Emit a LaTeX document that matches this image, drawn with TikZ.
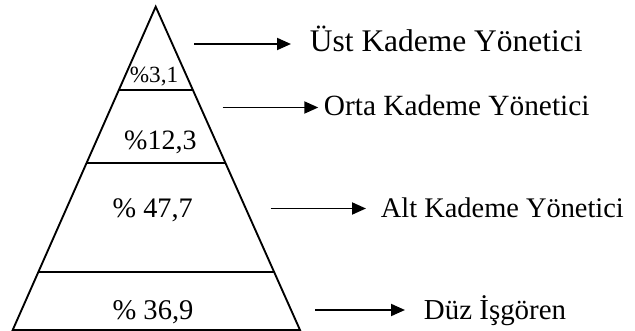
\documentclass[tikz,border=0pt]{standalone}
\usepackage{fontspec}
\setmainfont{Liberation Serif}
\usetikzlibrary{calc,arrows.meta,positioning}
\begin{document}
\begin{tikzpicture}[x=0.75pt,y=-0.75pt,line join=miter,line width=1.4pt,
	>={Triangle[length=10.5pt,width=9pt]},
	pct/.style={inner sep=0pt,anchor=base},
	lbl/.style={inner sep=0pt,anchor=base west}]
	\useasboundingbox (0,0) rectangle (635,331);
	% piramit
	\coordinate (apex) at (155.7,6.7);
	\coordinate (bl) at (12.7,330);
	\coordinate (br) at (300,330);
	\draw (bl)--(apex)--(br)--cycle;
	\foreach \t in {0.2577,0.4844,0.8215}
	\draw ($(apex)!\t!(bl)$)--($(apex)!\t!(br)$);
	% oranlar
	\node[pct,font=\fontsize{17.4}{20}\selectfont] (p1) at (154,83) {\%3,1};
	\node[pct,font=\fontsize{21}{24}\selectfont] (p2) at (160.4,149.3) {\%12,3};
	\node[pct,font=\fontsize{21.2}{24}\selectfont] (p3) at (152.7,217.3) {\% 47,7};
	\node[pct,font=\fontsize{21.4}{24}\selectfont] (p4) at (153,319) {\% 36,9};
	% kademeler
	\coordinate (u1) at (194,44); \coordinate (u2) at (291,44);
	\coordinate (o1) at (222.7,107.5); \coordinate (o2) at (318.3,107.5);
	\coordinate (a1) at (270.7,208.5); \coordinate (a2) at (366,208.5);
	\coordinate (d1) at (315,310); \coordinate (d2) at (405,310);
	\draw[->] (u1)--(u2);
	\draw[->] (o1)--(o2);
	\draw[->] (a1)--(a2);
	\draw[->] (d1)--(d2);
	\node[lbl,font=\fontsize{23.6}{26}\selectfont] (ust) at (309,52) {Üst Kademe Yönetici};
	\node[lbl,font=\fontsize{22}{25}\selectfont] (orta) at (323,116) {Orta Kademe Yönetici};
	\node[lbl,font=\fontsize{21.3}{24}\selectfont] (alt) at (380,217.5) {Alt Kademe Yönetici};
	\node[lbl,font=\fontsize{21.7}{24}\selectfont] (duz) at (423,319) {Düz İşgören};
\end{tikzpicture}
\end{document}
